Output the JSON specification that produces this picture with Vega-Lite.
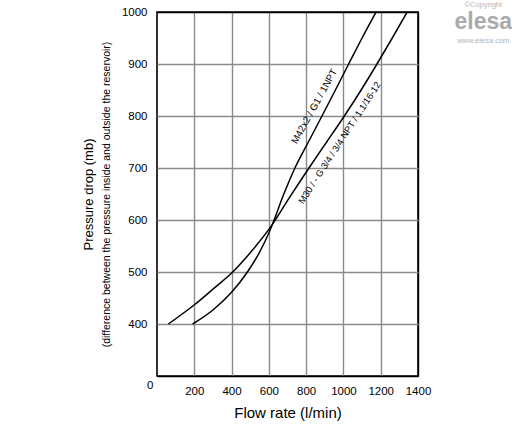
{
  "$schema": "https://vega.github.io/schema/vega-lite/v6.json",
  "width": 261,
  "height": 364,
  "autosize": {"type": "none"},
  "padding": {"left": 157, "top": 12, "right": 94, "bottom": 54},
  "background": "white",
  "config": {
    "view": {"stroke": "black", "strokeWidth": 1.6},
    "font": "Liberation Sans"
  },
  "resolve": {"axis": {"y": "independent"}},
  "datasets": {
    "curves": [
      {"series": "M42x2", "flow": 191, "mb": 400},
      {"series": "M42x2", "flow": 300, "mb": 427},
      {"series": "M42x2", "flow": 400, "mb": 461},
      {"series": "M42x2", "flow": 485, "mb": 500},
      {"series": "M42x2", "flow": 550, "mb": 538},
      {"series": "M42x2", "flow": 600, "mb": 575},
      {"series": "M42x2", "flow": 625, "mb": 597},
      {"series": "M42x2", "flow": 675, "mb": 645},
      {"series": "M42x2", "flow": 740, "mb": 700},
      {"series": "M42x2", "flow": 812, "mb": 750},
      {"series": "M42x2", "flow": 885, "mb": 800},
      {"series": "M42x2", "flow": 957, "mb": 850},
      {"series": "M42x2", "flow": 1028, "mb": 900},
      {"series": "M42x2", "flow": 1100, "mb": 950},
      {"series": "M42x2", "flow": 1175, "mb": 1000},
      {"series": "M30", "flow": 61, "mb": 400},
      {"series": "M30", "flow": 204, "mb": 438},
      {"series": "M30", "flow": 300, "mb": 467},
      {"series": "M30", "flow": 406, "mb": 500},
      {"series": "M30", "flow": 500, "mb": 537},
      {"series": "M30", "flow": 620, "mb": 592},
      {"series": "M30", "flow": 705, "mb": 640},
      {"series": "M30", "flow": 815, "mb": 700},
      {"series": "M30", "flow": 910, "mb": 750},
      {"series": "M30", "flow": 1005, "mb": 800},
      {"series": "M30", "flow": 1095, "mb": 850},
      {"series": "M30", "flow": 1180, "mb": 900},
      {"series": "M30", "flow": 1262, "mb": 950},
      {"series": "M30", "flow": 1342, "mb": 1000}
    ],
    "notes": [
      {"series": "M42x2", "flow": 882, "mb": 811, "text": "M42x2 / G1 / 1NPT"},
      {"series": "M30", "flow": 930, "mb": 760, "text": "M30 / - G 3/4 / 3/4 NPT / 1.1/16-12"}
    ]
  },
  "layer": [
    {
      "data": {"name": "curves"},
      "mark": {"type": "line", "color": "black", "strokeWidth": 1.5, "interpolate": "monotone"},
      "encoding": {
        "x": {
          "field": "flow",
          "type": "quantitative",
          "scale": {"domain": [0, 1400], "nice": false},
          "axis": {
            "values": [200, 400, 600, 800, 1000, 1200, 1400],
            "format": "d",
            "title": "Flow rate (l/min)",
            "titleFontSize": 15,
            "titleFontWeight": "normal",
            "titleColor": "black",
            "titlePadding": 9,
            "ticks": false,
            "domain": false,
            "labelFontSize": 11.5,
            "labelColor": "black",
            "labelFlush": false,
            "labelOverlap": false,
            "labelBound": false,
            "labelPadding": 9,
            "gridColor": {"condition": {"test": "datum.value == 1400", "value": "black"}, "value": "#8a8a8a"},
            "gridWidth": 1.4,
            "gridOpacity": 1
          }
        },
        "y": {
          "field": "mb",
          "type": "quantitative",
          "scale": {"domain": [300, 1000], "nice": false},
          "axis": {
            "values": [300, 400, 500, 600, 700, 800, 900, 1000],
            "format": "d",
            "labelExpr": "datum.value == 300 ? '0' : datum.label",
            "title": "(difference between the pressure inside and outside the reservoir)",
            "titleFontSize": 10.5,
            "titleFontWeight": "normal",
            "titleColor": "black",
            "titlePadding": 10,
            "ticks": false,
            "domain": false,
            "labelFontSize": 11.5,
            "labelColor": "black",
            "labelPadding": {"condition": {"test": "datum.value == 300", "value": 4}, "value": 10},
            "labelBaseline": {"condition": {"test": "datum.value == 300", "value": "top"}, "value": "middle"},
            "labelOffset": {"condition": {"test": "datum.value == 300", "value": 3}, "value": 0},
            "labelOverlap": false,
            "labelFlush": false,
            "labelBound": false,
            "gridColor": {"condition": {"test": "datum.value == 1000 || datum.value == 300", "value": "black"}, "value": "#8a8a8a"},
            "gridWidth": 1.4,
            "gridOpacity": 1
          }
        },
        "detail": {"field": "series", "type": "nominal"}
      }
    },
    {
      "data": {"name": "notes"},
      "transform": [{"filter": "datum.series == 'M42x2'"}],
      "mark": {"type": "text", "angle": -61, "dy": -8, "fontSize": 9.8, "color": "black", "align": "center", "baseline": "middle"},
      "encoding": {
        "x": {"field": "flow", "type": "quantitative"},
        "y": {
          "field": "mb",
          "type": "quantitative",
          "axis": {
            "orient": "left",
            "offset": 62,
            "title": "Pressure drop (mb)",
            "titleFontSize": 13,
            "titleFontWeight": "normal",
            "titleColor": "black",
            "titlePadding": 0,
            "labels": false,
            "ticks": false,
            "domain": false,
            "grid": false
          }
        },
        "text": {"field": "text"}
      }
    },
    {
      "data": {"name": "notes"},
      "transform": [{"filter": "datum.series == 'M30'"}],
      "mark": {"type": "text", "angle": -57, "dy": 11, "fontSize": 9.3, "color": "black", "align": "center", "baseline": "middle"},
      "encoding": {
        "x": {"field": "flow", "type": "quantitative"},
        "y": {"field": "mb", "type": "quantitative", "axis": null},
        "text": {"field": "text"}
      }
    },
    {
      "data": {"values": [{"flow": 1750, "mb": 1013, "text": "©Copyright"}]},
      "mark": {"type": "text", "fontSize": 7.5, "color": "#b5b5b5"},
      "encoding": {
        "x": {"field": "flow", "type": "quantitative"},
        "y": {"field": "mb", "type": "quantitative", "axis": null},
        "text": {"field": "text"}
      }
    },
    {
      "data": {"values": [{"flow": 1750, "mb": 981, "text": "elesa"}]},
      "mark": {"type": "text", "fontSize": 23, "fontWeight": "bold", "color": "#aaaaaa"},
      "encoding": {
        "x": {"field": "flow", "type": "quantitative"},
        "y": {"field": "mb", "type": "quantitative", "axis": null},
        "text": {"field": "text"}
      }
    },
    {
      "data": {"values": [{"flow": 1750, "mb": 944, "text": "www.elesa.com"}]},
      "mark": {"type": "text", "fontSize": 7.5, "color": "#b5b5b5"},
      "encoding": {
        "x": {"field": "flow", "type": "quantitative"},
        "y": {"field": "mb", "type": "quantitative", "axis": null},
        "text": {"field": "text"}
      }
    }
  ]
}
